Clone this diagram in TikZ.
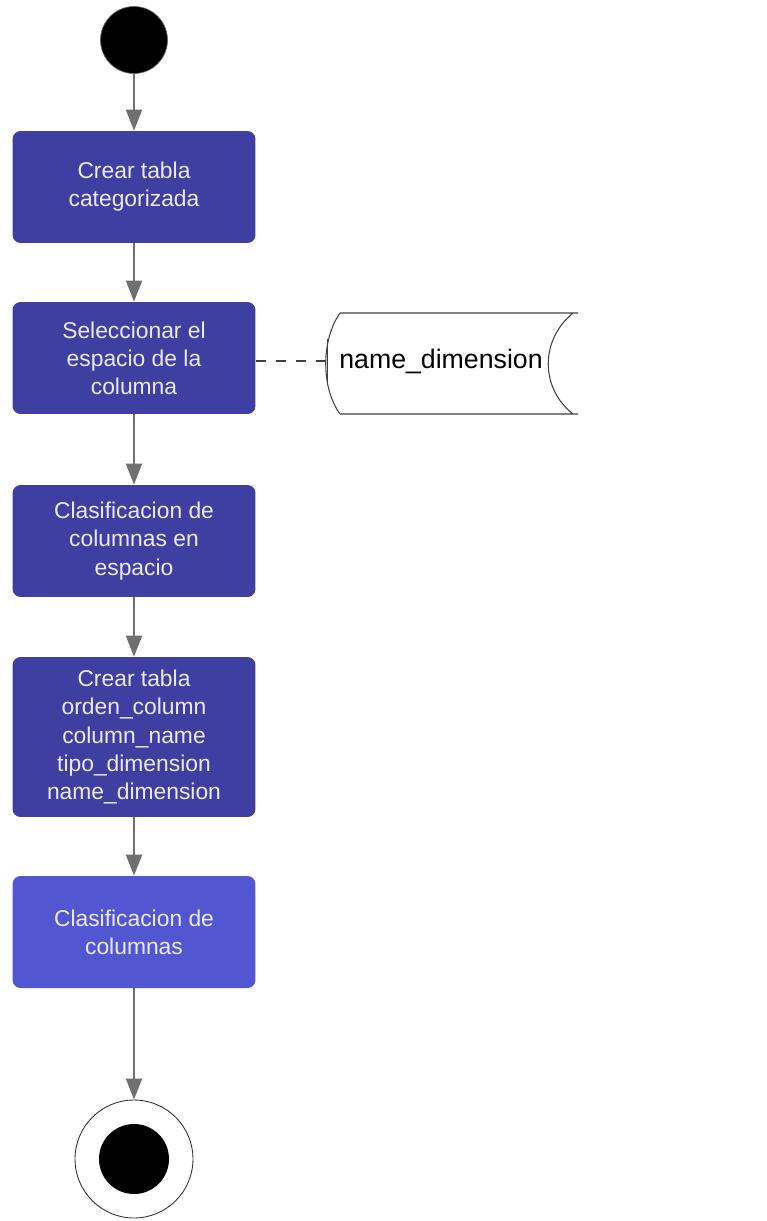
\documentclass[tikz,border=0pt]{standalone}
\usepackage{fontspec}
\setmainfont{Liberation Sans}
\usetikzlibrary{arrows.meta}
\definecolor{actdark}{RGB}{62,63,160}
\definecolor{actlight}{RGB}{82,86,208}
\definecolor{flowgray}{RGB}{112,112,112}
\begin{document}
\begin{tikzpicture}[x=0.02cm, y=-0.02cm,
    actbox/.style={draw=none, fill=actdark, rounded corners=0.16cm, minimum width=4.86cm,
                   minimum height=2.24cm, text=white!92!blue, align=center,
                   font=\fontsize{13}{16}\selectfont},
    flow/.style={draw=flowgray, line width=1.1pt, -{Triangle[width=0.32cm, length=0.42cm]}},
    link/.style={draw=black!75, line width=0.6pt, dash pattern=on 0.2cm off 0.2cm,
                 -{Bar[width=0.9cm, line width=0.6pt]}}]
        \useasboundingbox (0,0) rectangle (767,1221);

        \node [circle, fill=black, draw=black!60, minimum size=1.34cm, inner sep=0pt] (start) at (134,40) {};
        \node [actbox]                          (crear)       at (134,187) {Crear tabla\\categorizada};
        \node [actbox]                          (seleccionar) at (134,358) {Seleccionar el\\espacio de la\\columna};
        \node [actbox]                          (clasif)      at (134,541) {Clasificacion de\\columnas en\\espacio};
        \node [actbox, minimum height=3.2cm]    (tabla)       at (134,737) {Crear tabla\\orden\_column\\column\_name\\tipo\_dimension\\name\_dimension};
        \node [actbox, fill=actlight]           (clasifcol)   at (134,932) {Clasificacion de\\columnas};
        \node [circle, draw=black!80, fill=white, line width=0.5pt, minimum size=2.36cm, inner sep=0pt] (fin) at (134,1159) {};
        \node [circle, fill=black, minimum size=1.4cm, inner sep=0pt] at (fin) {};

        %data store
        \draw [black!75, line width=0.6pt] (340,313) -- (578,313)
              (340,414) -- (578,414)
              (340,313) .. controls (321,340) and (321,388) .. (340,414)
              (573,313) .. controls (540,340) and (540,388) .. (573,414);
        \node [font=\fontsize{15.2}{18}\selectfont] (store) at (441,361) {name\_dimension};
        \coordinate (storeL) at (328,361);

        \draw [flow] (start)       -- (crear);
        \draw [flow] (crear)       -- (seleccionar);
        \draw [flow] (seleccionar) -- (clasif);
        \draw [flow] (clasif)      -- (tabla);
        \draw [flow] (tabla)       -- (clasifcol);
        \draw [flow] (clasifcol)   -- (fin);
        \draw [link] (seleccionar.east |- storeL) -- (storeL);
\end{tikzpicture}
\end{document}
